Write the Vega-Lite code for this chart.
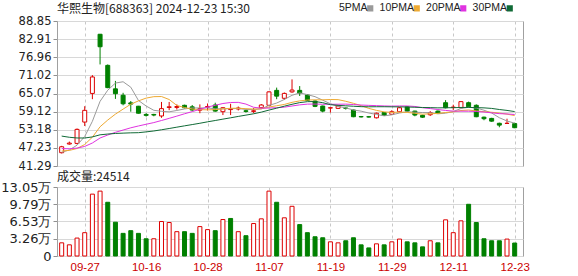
{
  "$schema": "https://vega.github.io/schema/vega-lite/v6.json",
  "background": "white",
  "padding": {"left": 0, "top": 2, "right": 0, "bottom": 0},
  "bounds": "flush",
  "spacing": 21,
  "config": {
    "view": {"stroke": "#a0a0a0", "strokeWidth": 1},
    "axis": {"labelFont": "DejaVu Sans", "labelColor": "#222222", "tickColor": "#909090", "domain": false, "title": null, "labelOverlap": false},
    "title": {"font": "Noto Sans CJK SC", "fontWeight": "normal", "color": "#222222", "anchor": "start", "frame": "group"}
  },
  "datasets": {
    "k": [
      {"d":"09-24","o":45.65,"h":47.9,"l":45.4,"c":47.6,"v":24900,"5PMA":45.8,"10PMA":46.2,"20PMA":47.0,"30PMA":51.1},
      {"d":"09-25","o":48.5,"h":49.3,"l":48.3,"c":48.8,"v":21100,"5PMA":46.56,"10PMA":46.4,"20PMA":46.94,"30PMA":50.71},
      {"d":"09-26","o":48.7,"h":53.6,"l":48.4,"c":53.3,"v":33900,"5PMA":48.12,"10PMA":47.04,"20PMA":47.16,"30PMA":50.48},
      {"d":"09-27","o":55.7,"h":60.9,"l":54.4,"c":59.55,"v":44100,"5PMA":50.97,"10PMA":48.34,"20PMA":47.71,"30PMA":50.47},
      {"d":"09-30","o":65.1,"h":71.1,"l":63.2,"c":70.5,"v":117000,"5PMA":55.95,"10PMA":50.75,"20PMA":48.83,"30PMA":50.83},
      {"d":"10-08","o":84.5,"h":84.6,"l":74.6,"c":80.4,"v":122700,"5PMA":62.51,"10PMA":54.16,"20PMA":50.47,"30PMA":51.52},
      {"d":"10-09","o":74.3,"h":74.6,"l":66.8,"c":67.0,"v":101600,"5PMA":66.15,"10PMA":56.36,"20PMA":51.45,"30PMA":51.77},
      {"d":"10-10","o":66.6,"h":69.2,"l":63.3,"c":65.0,"v":63900,"5PMA":68.49,"10PMA":58.31,"20PMA":52.34,"30PMA":51.97},
      {"d":"10-11","o":64.5,"h":65.3,"l":61.2,"c":61.7,"v":42800,"5PMA":68.92,"10PMA":59.95,"20PMA":53.08,"30PMA":52.07},
      {"d":"10-14","o":62.0,"h":62.6,"l":59.1,"c":61.6,"v":47900,"5PMA":67.14,"10PMA":61.55,"20PMA":53.82,"30PMA":52.17},
      {"d":"10-15","o":60.9,"h":61.0,"l":58.5,"c":58.6,"v":42800,"5PMA":62.78,"10PMA":62.65,"20PMA":54.42,"30PMA":52.22},
      {"d":"10-16","o":58.2,"h":58.6,"l":57.5,"c":57.9,"v":32600,"5PMA":60.96,"10PMA":63.56,"20PMA":54.98,"30PMA":52.48},
      {"d":"10-17","o":58.2,"h":58.4,"l":57.6,"c":58.0,"v":32600,"5PMA":59.56,"10PMA":64.03,"20PMA":55.53,"30PMA":52.78},
      {"d":"10-18","o":57.7,"h":62.3,"l":57.1,"c":60.1,"v":65200,"5PMA":59.24,"10PMA":64.08,"20PMA":56.21,"30PMA":53.17},
      {"d":"10-21","o":60.5,"h":62.3,"l":59.6,"c":60.7,"v":63300,"5PMA":59.06,"10PMA":63.1,"20PMA":56.92,"30PMA":53.59},
      {"d":"10-22","o":60.5,"h":61.5,"l":59.8,"c":60.8,"v":46000,"5PMA":59.5,"10PMA":61.14,"20PMA":57.65,"30PMA":54.03},
      {"d":"10-23","o":61.2,"h":61.4,"l":60.2,"c":60.4,"v":46000,"5PMA":60.0,"10PMA":60.48,"20PMA":58.42,"30PMA":54.46},
      {"d":"10-24","o":60.7,"h":61.3,"l":59.4,"c":59.65,"v":42800,"5PMA":60.33,"10PMA":59.95,"20PMA":59.13,"30PMA":54.88},
      {"d":"10-25","o":59.6,"h":61.5,"l":58.6,"c":60.1,"v":55600,"5PMA":60.33,"10PMA":59.79,"20PMA":59.87,"30PMA":55.31},
      {"d":"10-28","o":60.6,"h":61.8,"l":59.5,"c":60.8,"v":49900,"5PMA":60.35,"10PMA":59.71,"20PMA":60.63,"30PMA":55.78},
      {"d":"10-29","o":61.3,"h":62.05,"l":59.1,"c":59.3,"v":47900,"5PMA":60.05,"10PMA":59.78,"20PMA":61.21,"30PMA":56.21},
      {"d":"10-30","o":59.1,"h":60.6,"l":58.0,"c":60.4,"v":69000,"5PMA":60.05,"10PMA":60.03,"20PMA":61.79,"30PMA":56.66},
      {"d":"10-31","o":59.8,"h":61.7,"l":58.0,"c":59.95,"v":71000,"5PMA":60.11,"10PMA":60.22,"20PMA":62.12,"30PMA":57.1},
      {"d":"11-01","o":60.0,"h":60.8,"l":59.5,"c":60.3,"v":46000,"5PMA":60.15,"10PMA":60.24,"20PMA":62.16,"30PMA":57.55},
      {"d":"11-04","o":59.4,"h":59.8,"l":58.8,"c":59.2,"v":38400,"5PMA":59.83,"10PMA":60.09,"20PMA":61.6,"30PMA":57.98},
      {"d":"11-05","o":59.2,"h":60.3,"l":58.6,"c":59.4,"v":61400,"5PMA":59.85,"10PMA":59.95,"20PMA":60.55,"30PMA":58.42},
      {"d":"11-06","o":60.4,"h":61.6,"l":60.1,"c":61.3,"v":70300,"5PMA":60.03,"10PMA":60.04,"20PMA":60.26,"30PMA":58.96},
      {"d":"11-07","o":61.2,"h":65.8,"l":61.0,"c":65.6,"v":122700,"5PMA":61.16,"10PMA":60.64,"20PMA":60.29,"30PMA":59.63},
      {"d":"11-08","o":66.1,"h":67.0,"l":63.2,"c":64.2,"v":101600,"5PMA":61.94,"10PMA":61.05,"20PMA":60.42,"30PMA":60.26},
      {"d":"11-11","o":63.5,"h":65.4,"l":63.0,"c":65.1,"v":72200,"5PMA":63.12,"10PMA":61.48,"20PMA":60.59,"30PMA":60.91},
      {"d":"11-12","o":65.6,"h":69.7,"l":65.3,"c":66.2,"v":94000,"5PMA":64.48,"10PMA":62.17,"20PMA":60.97,"30PMA":61.53},
      {"d":"11-13","o":66.1,"h":67.5,"l":64.25,"c":65.2,"v":59400,"5PMA":65.26,"10PMA":62.65,"20PMA":61.34,"30PMA":62.08},
      {"d":"11-14","o":64.6,"h":64.9,"l":62.6,"c":62.8,"v":44100,"5PMA":64.7,"10PMA":62.93,"20PMA":61.58,"30PMA":62.39},
      {"d":"11-15","o":62.6,"h":62.8,"l":60.6,"c":60.85,"v":36400,"5PMA":64.03,"10PMA":62.99,"20PMA":61.61,"30PMA":62.44},
      {"d":"11-18","o":60.95,"h":61.1,"l":58.9,"c":59.3,"v":34500,"5PMA":62.87,"10PMA":63.0,"20PMA":61.54,"30PMA":62.06},
      {"d":"11-19","o":60.3,"h":60.5,"l":58.8,"c":60.4,"v":26800,"5PMA":61.71,"10PMA":63.1,"20PMA":61.52,"30PMA":61.4},
      {"d":"11-20","o":60.2,"h":61.1,"l":60.0,"c":60.95,"v":24900,"5PMA":60.86,"10PMA":63.06,"20PMA":61.55,"30PMA":61.19},
      {"d":"11-21","o":60.3,"h":60.6,"l":59.8,"c":60.2,"v":28800,"5PMA":60.34,"10PMA":62.52,"20PMA":61.58,"30PMA":61.03},
      {"d":"11-22","o":59.65,"h":59.8,"l":57.3,"c":57.45,"v":34500,"5PMA":59.66,"10PMA":61.85,"20PMA":61.45,"30PMA":60.89},
      {"d":"11-25","o":57.5,"h":57.7,"l":57.2,"c":57.4,"v":21100,"5PMA":59.28,"10PMA":61.08,"20PMA":61.28,"30PMA":60.75},
      {"d":"11-26","o":57.45,"h":57.7,"l":57.2,"c":57.35,"v":15300,"5PMA":58.67,"10PMA":60.19,"20PMA":61.18,"30PMA":60.71},
      {"d":"11-27","o":57.1,"h":58.8,"l":56.9,"c":58.6,"v":23000,"5PMA":58.2,"10PMA":59.53,"20PMA":61.09,"30PMA":60.73},
      {"d":"11-28","o":58.8,"h":59.0,"l":57.7,"c":57.9,"v":21100,"5PMA":57.74,"10PMA":59.04,"20PMA":60.99,"30PMA":60.73},
      {"d":"11-29","o":58.25,"h":59.6,"l":58.1,"c":59.1,"v":26800,"5PMA":58.07,"10PMA":58.87,"20PMA":60.93,"30PMA":60.7},
      {"d":"12-02","o":59.1,"h":60.6,"l":58.9,"c":60.4,"v":32000,"5PMA":58.67,"10PMA":58.98,"20PMA":60.99,"30PMA":60.69},
      {"d":"12-03","o":60.7,"h":60.9,"l":59.1,"c":59.3,"v":26800,"5PMA":59.06,"10PMA":58.87,"20PMA":60.98,"30PMA":60.64},
      {"d":"12-04","o":59.3,"h":59.4,"l":57.6,"c":58.0,"v":24900,"5PMA":58.94,"10PMA":58.57,"20PMA":60.82,"30PMA":60.56},
      {"d":"12-05","o":57.9,"h":58.1,"l":57.1,"c":57.3,"v":17300,"5PMA":58.82,"10PMA":58.28,"20PMA":60.4,"30PMA":60.48},
      {"d":"12-06","o":58.1,"h":59.3,"l":57.7,"c":58.8,"v":28800,"5PMA":58.76,"10PMA":58.42,"20PMA":60.13,"30PMA":60.44},
      {"d":"12-09","o":59.3,"h":59.5,"l":58.4,"c":58.6,"v":24900,"5PMA":58.4,"10PMA":58.54,"20PMA":59.81,"30PMA":60.36},
      {"d":"12-10","o":62.05,"h":62.9,"l":60.2,"c":60.4,"v":68400,"5PMA":58.62,"10PMA":58.84,"20PMA":59.52,"30PMA":60.4},
      {"d":"12-11","o":60.5,"h":61.4,"l":59.6,"c":60.6,"v":44100,"5PMA":59.14,"10PMA":59.04,"20PMA":59.29,"30PMA":60.41},
      {"d":"12-12","o":60.4,"h":62.6,"l":60.2,"c":62.4,"v":66500,"5PMA":60.16,"10PMA":59.49,"20PMA":59.27,"30PMA":60.49},
      {"d":"12-13","o":62.05,"h":62.4,"l":60.5,"c":60.7,"v":97800,"5PMA":60.54,"10PMA":59.65,"20PMA":59.26,"30PMA":60.5},
      {"d":"12-16","o":61.2,"h":61.5,"l":57.3,"c":57.45,"v":63300,"5PMA":60.31,"10PMA":59.36,"20PMA":59.17,"30PMA":60.44},
      {"d":"12-17","o":57.3,"h":57.5,"l":56.3,"c":56.8,"v":32600,"5PMA":59.59,"10PMA":59.11,"20PMA":58.99,"30PMA":60.36},
      {"d":"12-18","o":56.9,"h":57.1,"l":55.8,"c":56.0,"v":28800,"5PMA":58.67,"10PMA":58.91,"20PMA":58.74,"30PMA":60.18},
      {"d":"12-19","o":55.3,"h":55.5,"l":54.0,"c":54.7,"v":28800,"5PMA":57.13,"10PMA":58.65,"20PMA":58.46,"30PMA":59.82},
      {"d":"12-20","o":55.25,"h":56.8,"l":55.1,"c":55.3,"v":32000,"5PMA":56.05,"10PMA":58.3,"20PMA":58.36,"30PMA":59.52},
      {"d":"12-23","o":55.2,"h":55.5,"l":53.7,"c":53.85,"v":24514,"5PMA":55.33,"10PMA":57.82,"20PMA":58.18,"30PMA":59.14}
    ]
  },
  "vconcat": [
    {
      "width": 466,
      "height": 145,
      "data": {"name": "k"},
      "title": {"text": "华熙生物[688363] 2024-12-23 15:30", "fontSize": 12, "offset": -1},
      "encoding": {
        "x": {
          "field": "d", "type": "ordinal",
          "scale": {"type": "point", "padding": 0.846, "align": 0.36},
          "axis": {"values": ["09-27","10-16","10-28","11-07","11-19","11-29","12-11","12-23"], "labels": false, "ticks": false, "grid": true, "gridDash": [3, 3], "gridColor": "#c8c8c8"}
        }
      },
      "layer": [
        {
          "mark": {"type": "rule", "strokeWidth": 1},
          "encoding": {
            "y": {"field": "l", "type": "quantitative", "scale": {"domain": [41.29, 88.85], "nice": false, "zero": false},
              "axis": {"values": [41.29, 47.23, 53.18, 59.12, 65.07, 71.02, 76.96, 82.91, 88.85], "tickCount": 12, "format": ".2f", "labelOverlap": false, "labelFontSize": 11.5, "tickSize": 4, "labelPadding": 2, "gridColor": "#d8d8d8"}},
            "y2": {"field": "h"},
            "color": {"condition": {"test": "datum.c >= datum.o", "value": "#dd0000"}, "value": "#008000"}
          }
        },
        {
          "mark": {"type": "bar", "width": 4, "strokeWidth": 1},
          "encoding": {
            "y": {"field": "o", "type": "quantitative"},
            "y2": {"field": "c"},
            "fill": {"condition": {"test": "datum.c >= datum.o", "value": "#ffffff"}, "value": "#008000"},
            "stroke": {"condition": {"test": "datum.c >= datum.o", "value": "#dd0000"}, "value": "#008000"}
          }
        },
        {
          "transform": [{"fold": ["5PMA", "10PMA", "20PMA", "30PMA"], "as": ["k", "val"]}],
          "mark": {"type": "line", "strokeWidth": 1},
          "encoding": {
            "y": {"field": "val", "type": "quantitative"},
            "color": {
              "field": "k", "type": "nominal",
              "scale": {"domain": ["5PMA", "10PMA", "20PMA", "30PMA"], "range": ["#9a9a9a", "#eeaa33", "#e033e0", "#106a36"]},
              "legend": {"orient": "none", "legendX": 308, "legendY": -18, "direction": "horizontal", "title": null, "symbolType": "square", "symbolSize": 10, "symbolStrokeWidth": 3, "labelFont": "Liberation Sans", "labelFontSize": 10.5, "labelColor": "#222222", "labelAlign": "right", "labelOffset": -8, "columnPadding": 1.5, "padding": 0}
            }
          }
        }
      ]
    },
    {
      "width": 466,
      "height": 69,
      "data": {"name": "k"},
      "title": {"text": "成交量:24514", "fontSize": 12, "offset": -3},
      "transform": [{"window": [{"op": "lag", "field": "c", "as": "pc"}], "sort": [{"field": "d"}]}],
      "mark": {"type": "bar", "width": 4, "strokeWidth": 1},
      "encoding": {
        "x": {
          "field": "d", "type": "ordinal",
          "scale": {"type": "point", "padding": 0.846, "align": 0.36},
          "axis": {"values": ["09-27","10-16","10-28","11-07","11-19","11-29","12-11","12-23"], "ticks": false, "labelAngle": 0, "labelFont": "Liberation Sans", "labelFontSize": 11.5, "labelColor": "#cc0000", "labelPadding": 5, "grid": true, "gridDash": [3, 3], "gridColor": "#c8c8c8"}
        },
        "y": {"field": "v", "type": "quantitative", "scale": {"domain": [0, 130500], "nice": false},
          "axis": {"values": [0, 32600, 65300, 97900, 130500], "tickCount": 8, "labelExpr": "datum.value == 0 ? '0' : format(datum.value / 10000, '.2f') + '万'", "labelFont": "DejaVu Sans", "labelFontSize": 13, "tickSize": 4, "labelPadding": 2, "gridColor": "#d8d8d8"}},
        "fill": {"condition": {"test": "datum.pc == null || datum.c >= datum.pc", "value": "#ffffff"}, "value": "#008000"},
        "stroke": {"condition": {"test": "datum.pc == null || datum.c >= datum.pc", "value": "#dd0000"}, "value": "#008000"}
      }
    }
  ]
}
